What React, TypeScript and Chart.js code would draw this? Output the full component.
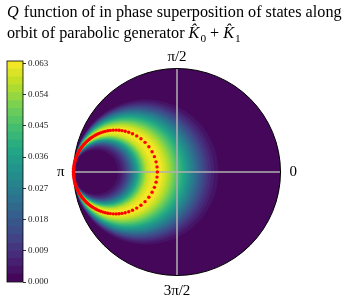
import React, { useEffect, useRef } from "react";
import { Chart, registerables } from "chart.js";
Chart.register(...registerables);

// ---- data ----
const levels = [
  0, 0.002275, 0.00455, 0.006825, 0.0091, 0.011375, 0.01365, 0.015925, 0.0182, 0.020475,
  0.02275, 0.025025, 0.0273, 0.029575, 0.03185, 0.034125, 0.0364, 0.038675, 0.04095,
  0.043225, 0.0455, 0.047775, 0.05005, 0.052325, 0.0546, 0.056875, 0.05915, 0.061425, 0.0637,
];
const cbTicks = [0, 0.009, 0.018, 0.027, 0.036, 0.045, 0.054, 0.063];
// horocycle radii (fraction of disk radius, tangent at angle pi) bounding Q >= levels[k]
const outerRadii = [
  0.7, 0.68, 0.665, 0.652, 0.64, 0.629, 0.619, 0.609, 0.6, 0.591, 0.582, 0.573, 0.564,
  0.555, 0.546, 0.537, 0.528, 0.519, 0.51, 0.501, 0.492, 0.483, 0.474, 0.464, 0.454, 0.443, 0.43,
];
const innerRadii = [
  0.215, 0.23, 0.239, 0.248, 0.255, 0.261, 0.267, 0.272, 0.277, 0.282, 0.286, 0.291, 0.296,
  0.3, 0.305, 0.309, 0.313, 0.318, 0.322, 0.327, 0.332, 0.337, 0.342, 0.347, 0.352, 0.362, 0.375,
];
const orbitRadius = 0.405;
const orbitAngles = [
  0, 7, 14, 21.5, 29, 37, 45, 52.5, 59.5, 66, 71.5, 76.5, 81, 85, 89, 93, 97, 100.5, 104, 107,
  110, 113, 115.5, 118, 120.5, 123, 125, 127, 129, 131, 133, 135, 137, 139, 141, 143, 145, 147,
  149, 151, 153, 155, 157, 159, 161, 163, 165, 167, 169, 171, 173, 175, 177, 179,
  -7, -14, -21.5, -29, -37, -45, -52.5, -59.5, -66, -71.5, -76.5, -81, -85, -89, -93, -97, -100.5,
  -104, -107, -110, -113, -115.5, -118, -120.5, -123, -125, -127, -129, -131, -133, -135, -137,
  -139, -141, -143, -145, -147, -149, -151, -153, -155, -157, -159, -161, -163, -165, -167, -169,
  -171, -173, -175, -177, -179,
];
const angleLabels = [
  { text: "0", x: 1, y: 0 },
  { text: "π/2", x: 0, y: 1 },
  { text: "π", x: -1, y: 0 },
  { text: "3π/2", x: 0, y: -1 },
];

// ---- styling helpers ----
const VIR = [
  [68, 1, 84], [72, 36, 117], [65, 68, 135], [53, 95, 141], [42, 120, 142], [33, 145, 140],
  [34, 168, 132], [68, 191, 112], [122, 209, 81], [189, 223, 38], [253, 231, 37],
];
function viridis(t: number) {
  const x = Math.max(0, Math.min(1, t)) * 10;
  const i = Math.min(9, Math.floor(x));
  const f = x - i;
  const a = VIR[i], b = VIR[i + 1];
  const c = a.map((v, j) => Math.round(v + (b[j] - v) * f));
  return `rgb(${c[0]},${c[1]},${c[2]})`;
}
const nBands = levels.length - 1;
const bandColor = (k: number) => viridis((k + 0.5) / nBands);
const SERIF = "'Liberation Serif', 'DejaVu Serif', serif";

type Seg = { t: string; it?: boolean; sub?: boolean };
const titleLines: Seg[][] = [
  [{ t: "Q", it: true }, { t: " function of in phase superposition of states along" }],
  [
    { t: "orbit of parabolic generator " },
    { t: "K\u0302", it: true }, { t: "0", sub: true },
    { t: " + " },
    { t: "K\u0302", it: true }, { t: "1", sub: true },
  ],
];

function drawSegs(ctx: CanvasRenderingContext2D, segs: Seg[], x: number, y: number, size: number) {
  let cx = x;
  for (const s of segs) {
    const fs = s.sub ? size * 0.7 : size;
    ctx.font = `${s.it ? "italic " : ""}${fs}px ${SERIF}`;
    ctx.fillText(s.t, cx, y + (s.sub ? size * 0.22 : 0));
    cx += ctx.measureText(s.t).width + (s.it ? 1 : 0);
  }
}
function segWidth(ctx: CanvasRenderingContext2D, segs: Seg[], size: number) {
  let w = 0;
  for (const s of segs) {
    const fs = s.sub ? size * 0.7 : size;
    ctx.font = `${s.it ? "italic " : ""}${fs}px ${SERIF}`;
    w += ctx.measureText(s.t).width;
  }
  return w;
}

const fieldPlugin = {
  id: "field",
  beforeDatasetsDraw(chart: any) {
    const { ctx } = chart;
    const xs = chart.scales.x, ys = chart.scales.y;
    const px = (v: number) => xs.getPixelForValue(v);
    const py = (v: number) => ys.getPixelForValue(v);
    const unit = px(1) - px(0);
    const circle = (c: number, r: number, color: string) => {
      ctx.beginPath();
      ctx.arc(px(c), py(0), r * unit, 0, Math.PI * 2);
      ctx.fillStyle = color;
      ctx.fill();
    };
    ctx.save();
    circle(0, 1, bandColor(0));
    outerRadii.forEach((r, i) => circle(-1 + r, r, bandColor(i + 1)));
    for (let i = innerRadii.length - 1; i >= 0; i--) circle(-1 + innerRadii[i], innerRadii[i], bandColor(i));
    ctx.strokeStyle = "#b0b0b0";
    ctx.lineWidth = 1.5;
    ctx.beginPath();
    ctx.moveTo(px(-1), py(0));
    ctx.lineTo(px(1), py(0));
    ctx.moveTo(px(0), py(1));
    ctx.lineTo(px(0), py(-1));
    ctx.stroke();
    ctx.beginPath();
    ctx.arc(px(0), py(0), unit, 0, Math.PI * 2);
    ctx.strokeStyle = "#000";
    ctx.lineWidth = 1;
    ctx.stroke();
    ctx.restore();
  },
  afterDraw(chart: any) {
    const { ctx } = chart;
    const xs = chart.scales.x, ys = chart.scales.y;
    ctx.save();
    ctx.fillStyle = "#000";
    // angle labels
    ctx.font = `15px ${SERIF}`;
    for (const l of angleLabels) {
      const x = xs.getPixelForValue(l.x), y = ys.getPixelForValue(l.y);
      const w = ctx.measureText(l.text).width;
      if (l.y > 0) { ctx.textBaseline = "alphabetic"; ctx.fillText(l.text, x - w / 2, y - 8); }
      else if (l.y < 0) { ctx.textBaseline = "alphabetic"; ctx.fillText(l.text, x - w / 2, y + 19); }
      else if (l.x > 0) { ctx.textBaseline = "middle"; ctx.fillText(l.text, x + 9, y); }
      else { ctx.textBaseline = "middle"; ctx.fillText(l.text, x - 9 - w, y); }
    }
    // title
    ctx.textBaseline = "alphabetic";
    const w0 = segWidth(ctx, titleLines[0], 14);
    const size = 14 * 334 / w0;
    drawSegs(ctx, titleLines[0], 7, 17, size);
    drawSegs(ctx, titleLines[1], 7, 38, size);
    ctx.restore();
  },
};

const cbOutline = {
  id: "cbOutline",
  afterDraw(chart: any) {
    const { ctx, chartArea: a } = chart;
    ctx.save();
    ctx.strokeStyle = "#000";
    ctx.lineWidth = 0.8;
    ctx.strokeRect(a.left, a.top, a.right - a.left, a.bottom - a.top);
    ctx.restore();
  },
};

export default function App() {
  const mainRef = useRef<HTMLCanvasElement>(null);
  const cbRef = useRef<HTMLCanvasElement>(null);
  useEffect(() => {
    const points = orbitAngles.map((a) => {
      const t = (a * Math.PI) / 180;
      return { x: -1 + orbitRadius + orbitRadius * Math.cos(t), y: orbitRadius * Math.sin(t) };
    });
    const main = new Chart(mainRef.current!, {
      type: "scatter",
      data: {
        datasets: [
          { data: points, backgroundColor: "#ff0000", borderWidth: 0, pointRadius: 1.7, clip: false } as any,
        ],
      },
      options: {
        responsive: false,
        animation: false,
        layout: { padding: { left: 73.5, right: 68.5, top: 68.5, bottom: 28.5 } },
        plugins: { legend: { display: false }, tooltip: { enabled: false } },
        scales: {
          x: { type: "linear", min: -1, max: 1, display: false },
          y: { type: "linear", min: -1, max: 1, display: false },
        },
      },
      plugins: [fieldPlugin],
    });
    const cb = new Chart(cbRef.current!, {
      type: "bar",
      data: {
        labels: [""],
        datasets: levels.slice(0, -1).map((lo, k) => ({
          data: [[lo, levels[k + 1]]],
          backgroundColor: bandColor(k),
          borderWidth: 0,
          barPercentage: 1,
          categoryPercentage: 1,
          grouped: false,
        })) as any,
      },
      options: {
        responsive: false,
        animation: false,
        layout: { padding: { left: 7, right: 0, top: 61, bottom: 22 } },
        plugins: { legend: { display: false }, tooltip: { enabled: false } },
        scales: {
          x: { display: false },
          y: {
            position: "right",
            min: 0,
            max: levels[levels.length - 1],
            afterBuildTicks: (s: any) => { s.ticks = cbTicks.map((v) => ({ value: v })); },
            afterFit: (s: any) => { s.width = 39; },
            grid: { drawOnChartArea: false, tickLength: 3, color: "#000", lineWidth: 0.8 },
            border: { display: false },
            ticks: {
              font: { family: SERIF, size: 9 },
              color: "#222",
              padding: 2,
              callback: (v: any) => Number(v).toFixed(3),
            },
          },
        },
      },
      plugins: [cbOutline],
    });
    return () => { main.destroy(); cb.destroy(); };
  }, []);
  return (
    <div style={{ position: "absolute", left: 0, top: 0, width: 349, height: 304 }}>
      <canvas ref={mainRef} width={349} height={304} style={{ position: "absolute", left: 0, top: 0 }} />
      <canvas ref={cbRef} width={62} height={304} style={{ position: "absolute", left: 0, top: 0 }} />
    </div>
  );
}
